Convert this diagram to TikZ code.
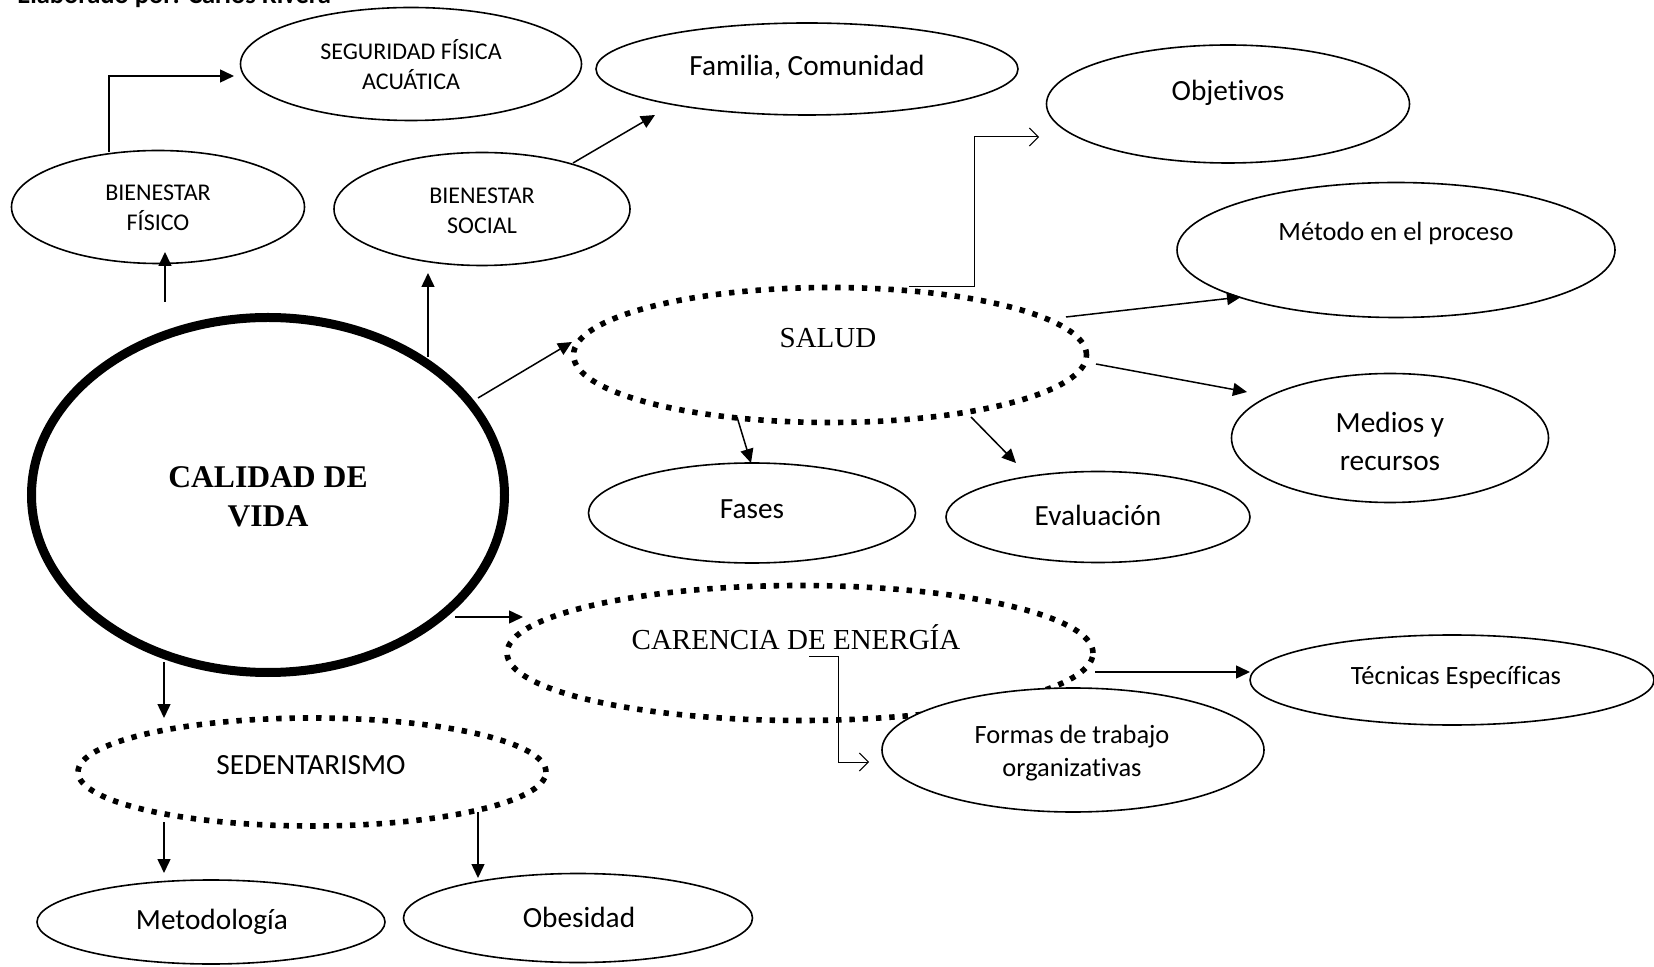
\documentclass[tikz,border=0pt]{standalone}
\usepackage{fontspec}
\setmainfont{Carlito}[Ligatures=NoCommon]
\newfontfamily\timesfont{Liberation Serif}
\usetikzlibrary{shapes.geometric,arrows.meta}
\begin{document}
\begin{tikzpicture}[x=0.5pt,y=-0.5pt,
  ell/.style={ellipse, draw, fill=white, line width=0.8pt, inner sep=0pt},
  dotell/.style={ellipse, draw, fill=white, line width=2.8pt, dash pattern=on 2.7pt off 3.95pt, inner sep=0pt},
  arr/.style={line width=0.75pt, -{Triangle[length=7pt,width=6.5pt]}},
  thinarr/.style={line width=0.5pt, -{Straight Barb[length=4.5pt,width=9pt]}},
  txt/.style={align=center, inner sep=0pt},
  big/.style={font=\fontsize{14.65}{19}\selectfont},
  mid/.style={font=\fontsize{13.2}{16.5}\selectfont},
  small/.style={font=\fontsize{12}{15}\selectfont},
  serif/.style={font=\timesfont\fontsize{14.5}{18}\selectfont},
]
\useasboundingbox (0,0) rectangle (1654,967);

\node[anchor=base west, inner sep=0pt, font=\bfseries\fontsize{13.25}{16}\selectfont] (title) at (17,4) {Elaborado por: Carlos Rivera};

% ellipses
\node[ell, minimum width=170.5pt, minimum height=56.5pt] (seg) at (411,64) {};
\node[ell, minimum width=211pt, minimum height=46pt] (fam) at (807,69) {};
\node[ell, minimum width=181.5pt, minimum height=59pt] (obj) at (1228,104) {};
\node[ell, minimum width=146.5pt, minimum height=56.5pt] (bf) at (158,207) {};
\node[ell, minimum width=148pt, minimum height=56.5pt] (bs) at (482,209) {};
\node[ell, minimum width=219pt, minimum height=67.5pt] (met) at (1396,250) {};
\node[dotell, minimum width=256.5pt, minimum height=67.5pt] (sal) at (830,355) {};
\node[ell, minimum width=158.5pt, minimum height=64.5pt] (med) at (1390,438) {};
\node[ellipse, draw, fill=white, line width=4.5pt, inner sep=0pt, minimum width=236.5pt, minimum height=177.5pt] (cal) at (268,495) {};
\node[ell, minimum width=163.5pt, minimum height=50pt] (fas) at (752,513) {};
\node[ell, minimum width=152pt, minimum height=45.5pt] (eva) at (1098,517) {};
\node[dotell, minimum width=293pt, minimum height=67.5pt] (car) at (800,653) {};
\node[ell, minimum width=202pt, minimum height=45pt] (tec) at (1452,680) {};
\node[ell, minimum width=191pt, minimum height=62pt] (for) at (1073,750) {};
\node[dotell, minimum width=234pt, minimum height=54pt] (sed) at (312,772) {};
\node[ell, minimum width=174pt, minimum height=42pt] (mtd) at (211,922) {};
\node[ell, minimum width=174.5pt, minimum height=44.5pt] (obe) at (578,918) {};

% texts
\node[txt, small] (segt) at (411,65) {SEGURIDAD FÍSICA\\ACUÁTICA};
\node[txt, big] (famt) at (807,67) {Familia, Comunidad};
\node[txt, big] (objt) at (1228,93) {Objetivos};
\node[txt, small] (bft) at (158,208) {BIENESTAR\\FÍSICO};
\node[txt, small] (bst) at (482,211) {BIENESTAR\\SOCIAL};
\node[txt, mid] (mett) at (1396,233) {Método en el proceso};
\node[txt, serif] (salt) at (828,338) {SALUD};
\node[txt, big] (medt) at (1390,441) {Medios y\\recursos};
\node[txt, font=\timesfont\bfseries\fontsize{15.8}{19.5}\selectfont] (calt) at (268,497) {CALIDAD DE\\VIDA};
\node[txt, big] (fast) at (752,509) {Fases};
\node[txt, big] (evat) at (1098,515) {Evaluación};
\node[txt, serif] (cart) at (796,637) {CARENCIA DE ENERGÍA};
\node[txt, mid] (tect) at (1456,678) {Técnicas Específicas};
\node[txt, mid] (fort) at (1072,753) {Formas de trabajo\\organizativas};
\node[txt, big] (sedt) at (311,765) {SEDENTARISMO};
\node[txt, big] (mtdt) at (212,922) {Metodología};
\node[txt, big] (obet) at (579,917) {Obesidad};

% connector end points
\coordinate (a1) at (165,302); \coordinate (b1) at (165,252);
\coordinate (a2) at (109,152); \coordinate (b2) at (234,76);
\coordinate (a3) at (428,357); \coordinate (b3) at (428,273);
\coordinate (a4) at (573,163); \coordinate (b4) at (655,115);
\coordinate (a5) at (478,398); \coordinate (b5) at (572,342);
\coordinate (a6) at (909,287); \coordinate (m6) at (974,137); \coordinate (b6) at (1039,137);
\coordinate (a7) at (1066,317); \coordinate (b7) at (1241,297);
\coordinate (a8) at (1096,364); \coordinate (b8) at (1247,392);
\coordinate (a9) at (737,417); \coordinate (b9) at (751,463);
\coordinate (a10) at (971,417); \coordinate (b10) at (1016,463);
\coordinate (a11) at (455,617); \coordinate (b11) at (523,617);
\coordinate (a12) at (1095,672); \coordinate (b12) at (1250,672);
\coordinate (a13) at (809,656); \coordinate (m13) at (838,762); \coordinate (b13) at (869,762);
\coordinate (a14) at (164,662); \coordinate (b14) at (164,718);
\coordinate (a15) at (164,822); \coordinate (b15) at (164,873);
\coordinate (a16) at (478,812); \coordinate (b16) at (478,878);

\draw[arr] (a1) -- (b1);
\draw[arr] (a2) |- (b2);
\draw[arr] (a3) -- (b3);
\draw[arr] (a4) -- (b4);
\draw[arr] (a5) -- (b5);
\draw[thinarr] (a6) -| (m6) -- (b6);
\draw[arr] (a7) -- (b7);
\draw[arr] (a8) -- (b8);
\draw[arr] (a9) -- (b9);
\draw[arr] (a10) -- (b10);
\draw[arr] (a11) -- (b11);
\draw[arr] (a12) -- (b12);
\draw[thinarr] (a13) -| (m13) -- (b13);
\draw[arr] (a14) -- (b14);
\draw[arr] (a15) -- (b15);
\draw[arr] (a16) -- (b16);
\end{tikzpicture}
\end{document}
